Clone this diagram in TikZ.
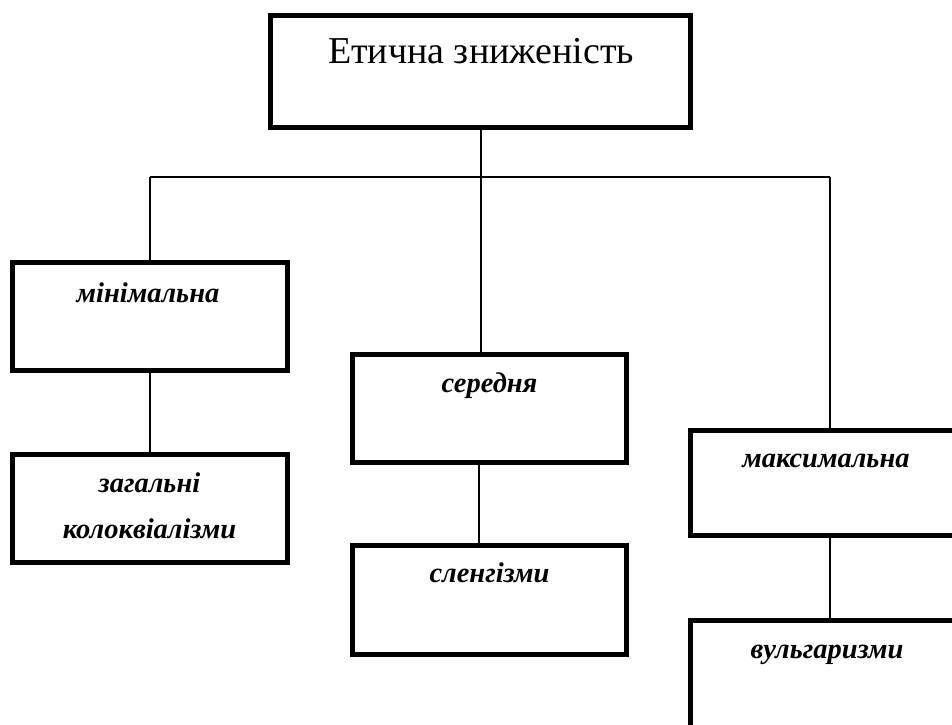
\documentclass[tikz,border=0pt]{standalone}
\usepackage{fontspec}
\setmainfont{Liberation Serif}
\begin{document}
\begin{tikzpicture}[x=1pt,y=-1pt,
  boxn/.style={draw=black, line width=5pt, rectangle, inner sep=0pt, fill=none},
  conn/.style={draw=black, line width=2pt},
  titletxt/.style={inner sep=0pt, anchor=base, font=\fontsize{38}{46}\selectfont},
  lbltxt/.style={inner sep=0pt, anchor=base, align=center, font=\fontsize{28.5}{46}\selectfont\bfseries\itshape}]
\path[use as bounding box, clip] (0,0) rectangle (952,724);
% boxes
\node[boxn, minimum width=419.7pt, minimum height=112.5pt] (top) at (480.6,71.25) {};
\node[boxn, minimum width=275pt, minimum height=107.5pt] (min) at (149.5,316.25) {};
\node[boxn, minimum width=275pt, minimum height=108pt] (zag) at (149.5,508.5) {};
\node[boxn, minimum width=274pt, minimum height=108pt] (mid) at (489.5,408.5) {};
\node[boxn, minimum width=274pt, minimum height=109pt] (sl) at (489.5,600) {};
\node[boxn, minimum width=275pt, minimum height=105pt] (max) at (828,483) {};
\node[boxn, minimum width=275pt, minimum height=108pt] (vul) at (828,674.5) {};
% texts
\node[titletxt] (topT) at (481,63) {Етична зниженість};
\node[lbltxt] (minT) at (148,302) {мінімальна};
\node[lbltxt] (zagT1) at (149.5,492) {загальні};
\node[lbltxt] (zagT2) at (149.5,538) {колоквіалізми};
\node[lbltxt] (midT) at (489.5,392) {середня};
\node[lbltxt] (slT) at (489.5,582) {сленгізми};
\node[lbltxt] (maxT) at (826,467) {максимальна};
\node[lbltxt] (vulT) at (827,658) {вульгаризми};
% connectors
\coordinate (jL) at (150,177);
\coordinate (jR) at (830,177);
\draw[conn] (top.south) -- (top.south |- mid.north);
\draw[conn] (jL) -- (jR);
\draw[conn] (jL) -- (jL |- min.north);
\draw[conn] (jR) -- (jR |- max.north);
\draw[conn] (jL |- min.south) -- (jL |- zag.north);
\draw[conn] ([xshift=-11pt]mid.south) -- ([xshift=-11pt]sl.north);
\draw[conn] (jR |- max.south) -- (jR |- vul.north);
\end{tikzpicture}
\end{document}
